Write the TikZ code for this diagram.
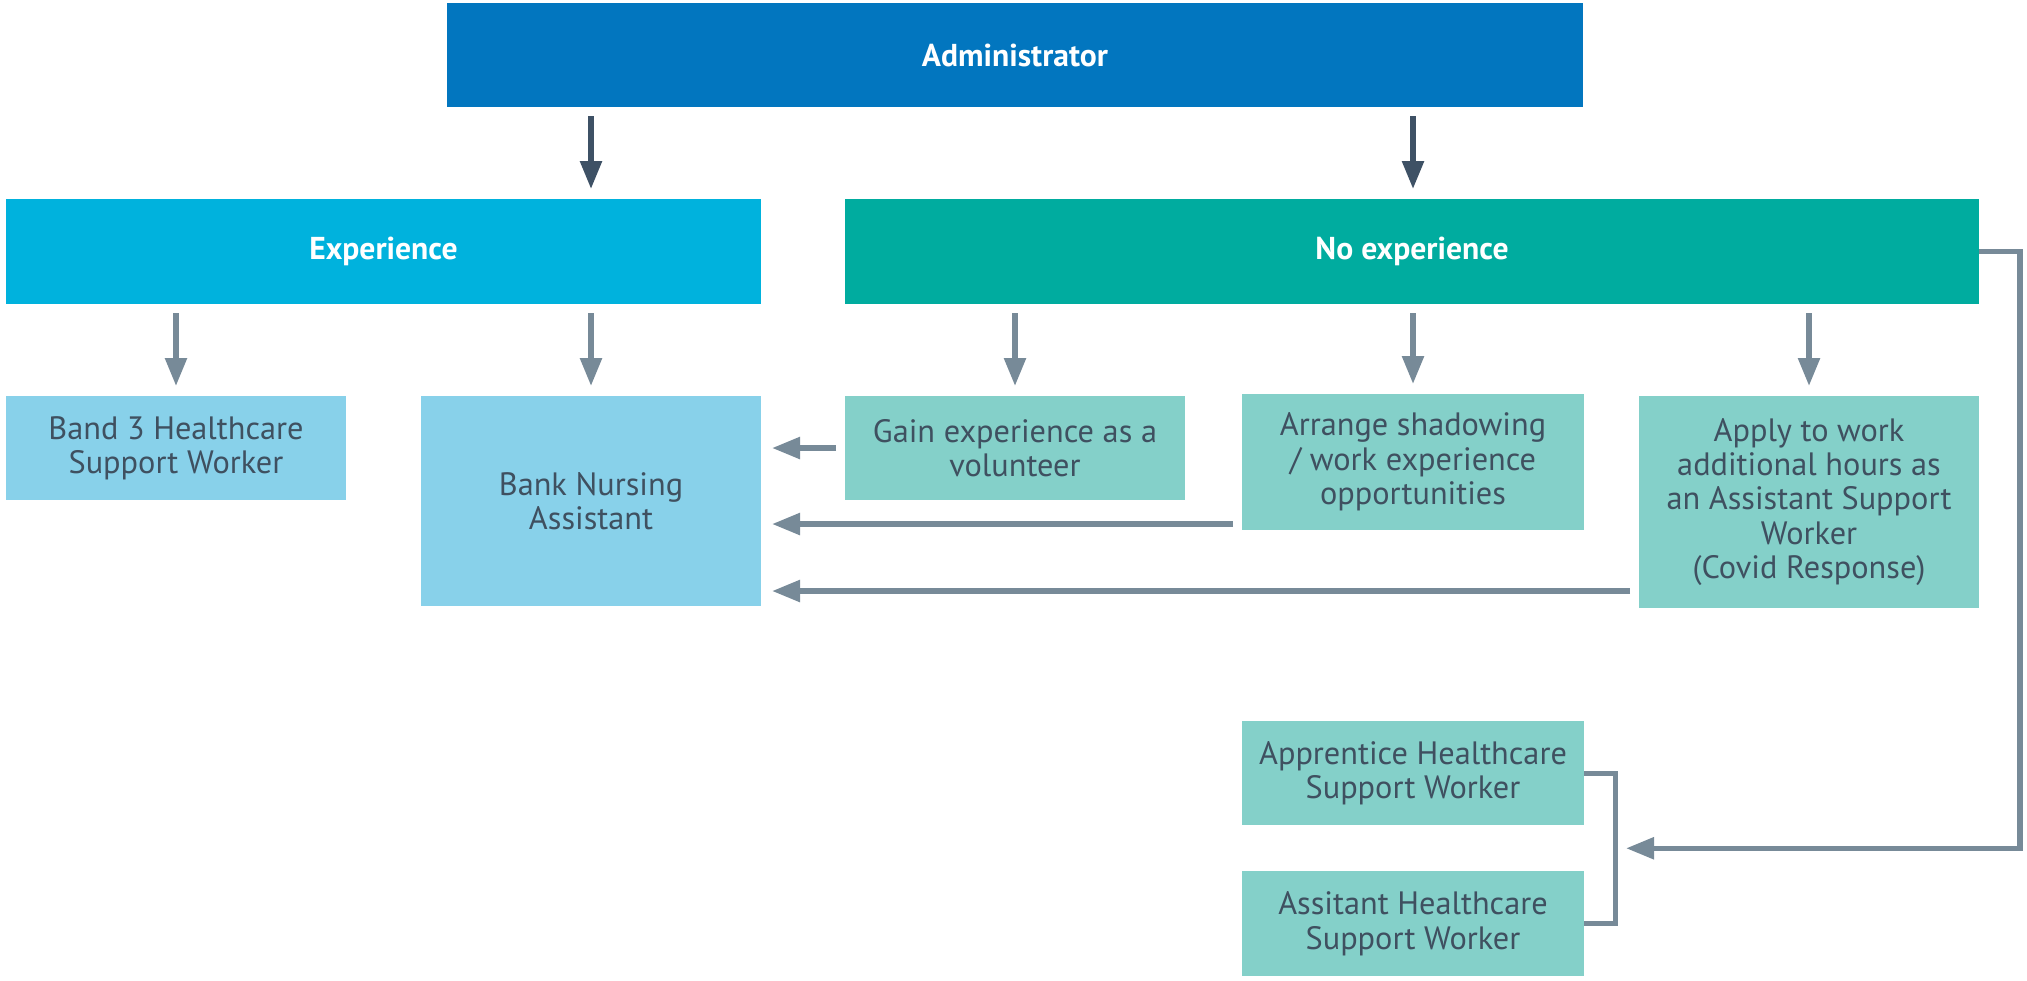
\documentclass[tikz,border=0pt]{standalone}
\usepackage{fontspec}
\setmainfont{PT Sans}
\usetikzlibrary{arrows.meta,calc}
\usepackage{xcolor}
\definecolor{adminblue}{HTML}{0276BF}
\definecolor{expblue}{HTML}{00B2DD}
\definecolor{noexpteal}{HTML}{00AC9F}
\definecolor{paleblue}{HTML}{88D1EA}
\definecolor{paleteal}{HTML}{84D0C9}
\definecolor{textslate}{HTML}{3F5060}
\definecolor{linegrey}{HTML}{778A98}
\definecolor{linedark}{HTML}{3E5165}

\begin{document}
\begin{tikzpicture}[
        box/.style={minimum height=1.04cm, outer sep=0pt, inner sep=2pt, align=center,
          text=textslate, font=\fontsize{9.2}{9.8}\selectfont},
        headbox/.style={box, text=white, font=\fontsize{9}{9.8}\selectfont\bfseries},
        link/.style={line width=0.05cm, draw=linegrey},
        arr/.style={link, line width=0.055cm, -{Triangle[length=0.28cm,width=0.21cm]}, shorten <=0.09cm, shorten >=0.1cm},
        darkarr/.style={arr, draw=linedark, fill=linedark}
    ]
        \useasboundingbox (0,0) rectangle (20.27,-9.80);

        % top row
        \node[headbox, fill=adminblue, minimum width=11.36cm] (admin) at (10.15,-0.55) {Administrator};
        \node[headbox, fill=expblue, minimum width=7.55cm, minimum height=1.05cm] (exp) at (3.835,-2.515) {Experience};
        \node[headbox, fill=noexpteal, minimum width=11.34cm, minimum height=1.05cm] (noexp) at (14.12,-2.515) {No experience};

        % experience branch
        \node[box, fill=paleblue, minimum width=3.40cm] (band) at (1.76,-4.48) {Band 3 Healthcare\\Support Worker};
        \node[box, fill=paleblue, minimum width=3.40cm, minimum height=2.10cm] (bank) at (5.91,-5.01) {Bank Nursing\\Assistant};

        % no experience branch
        \node[box, fill=paleteal, minimum width=3.40cm] (gain) at (10.15,-4.48) {Gain experience as a\\volunteer};
        \node[box, fill=paleteal, minimum width=3.42cm, minimum height=1.36cm] (arrange) at (14.13,-4.62) {Arrange shadowing\\/ work experience\\opportunities};
        \node[box, fill=paleteal, minimum width=3.40cm, minimum height=2.12cm] (apply) at (18.09,-5.02) {Apply to work\\additional hours as\\an Assistant Support\\Worker\\(Covid Response)};
        \node[box, fill=paleteal, minimum width=3.42cm] (appr) at (14.13,-7.73) {Apprentice Healthcare\\Support Worker};
        \node[box, fill=paleteal, minimum width=3.42cm, minimum height=1.05cm] (assit) at (14.13,-9.235) {Assitant Healthcare\\Support Worker};

        % arrows down
        \draw[darkarr] (admin.south -| bank.north) -- (exp.north -| bank.north);
        \draw[darkarr] (admin.south -| arrange.north) -- (noexp.north -| arrange.north);
        \draw[arr] (exp.south -| band.north) -- (band.north);
        \draw[arr] (exp.south -| bank.north) -- (bank.north);
        \draw[arr] (noexp.south -| gain.north) -- (gain.north);
        \draw[arr] (noexp.south -| arrange.north) -- (arrange.north);
        \draw[arr] (noexp.south -| apply.north) -- (apply.north);

        % arrows back to bank
        \coordinate (arrangeout) at ([yshift=0.06cm]arrange.south west);
        \coordinate (applyout) at ([yshift=0.17cm]apply.south west);
        \draw[arr, shorten >=0.11cm] (gain.west) -- (gain.west -| bank.east);
        \draw[arr, shorten >=0.11cm] (arrangeout) -- (arrangeout -| bank.east);
        \draw[arr, shorten >=0.11cm] (applyout) -- (applyout -| bank.east);

        % loop to apprenticeships
        \coordinate (join) at ($(appr.east)!0.5!(assit.east)+(0.31,0)$);
        \draw[link] (appr.east) -| (join) |- (assit.east);
        \draw[arr, shorten <=0pt, shorten >=0.11cm] (noexp.east) -- ++(0.41,0) |- (join);

      \end{tikzpicture}
\end{document}
